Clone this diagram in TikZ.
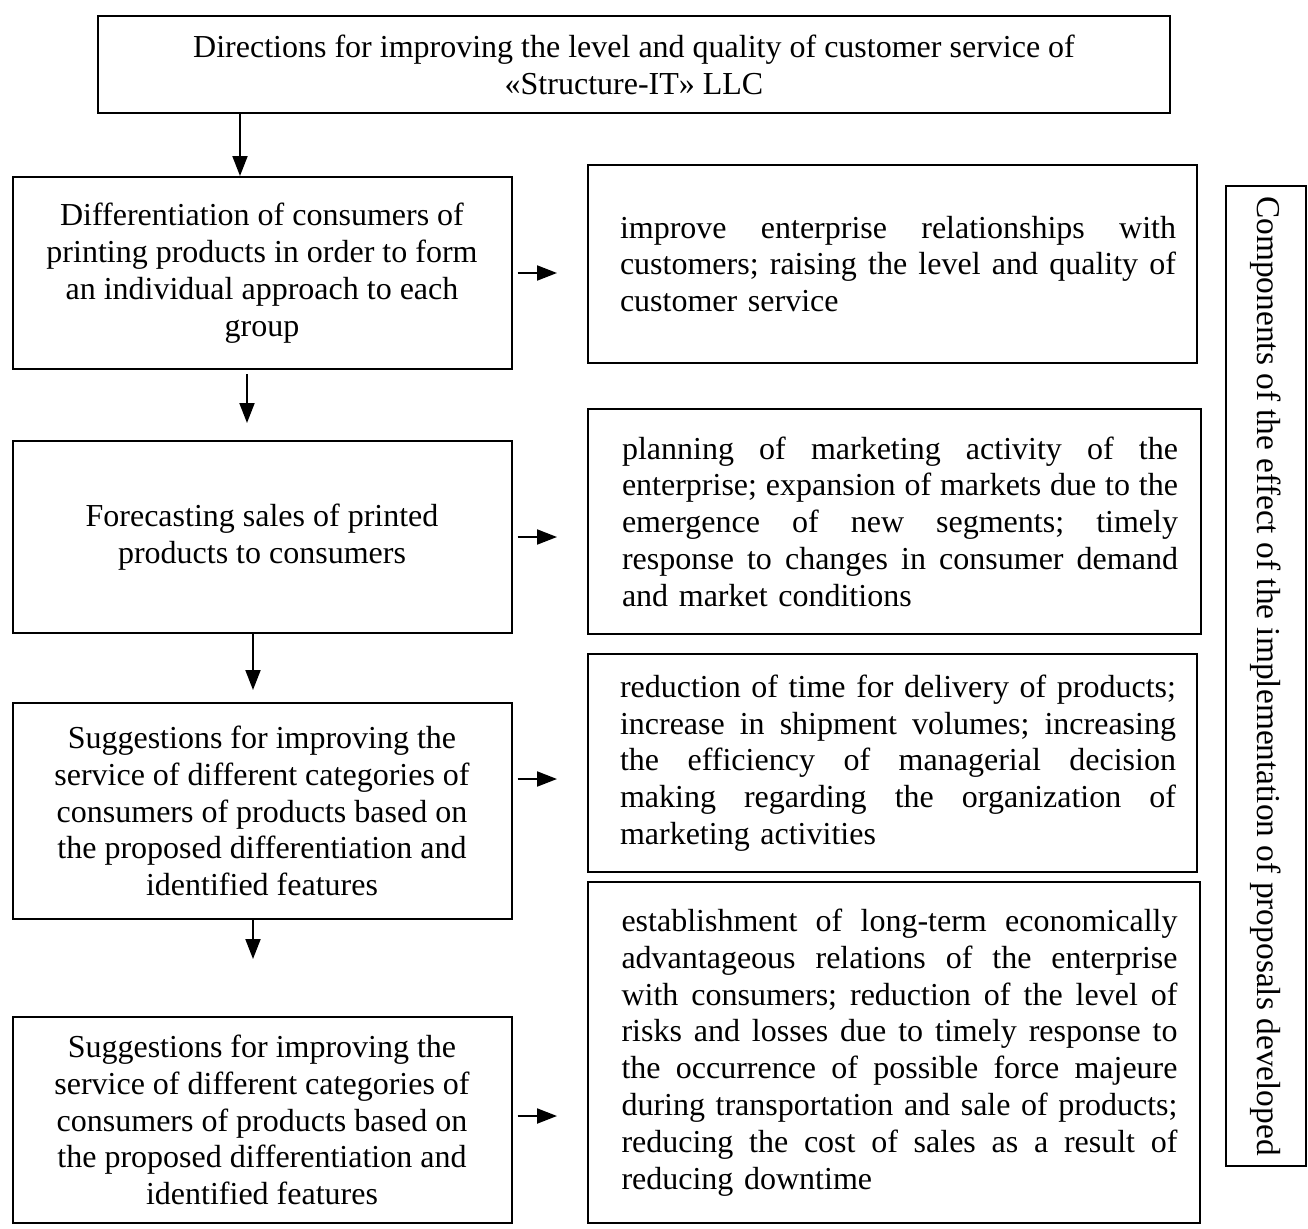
\documentclass[tikz,border=0pt]{standalone}
\usepackage{fontspec}
\setmainfont{Liberation Serif}
\usetikzlibrary{arrows.meta}
% justified lines of the effect boxes
\newlength\jw
\setlength\jw{556pt}
\newcommand\jl[1]{\hspace*{11pt}\hbox to\jw{\frenchspacing\spaceskip=0.25em plus 1fil minus 0.12em\relax #1}}
\newcommand\jlast[1]{\hspace*{11pt}#1}
\begin{document}
\begin{tikzpicture}[x=1pt,y=-1pt,
  box/.style={draw,line width=2pt,inner sep=0pt,font=\fontsize{32}{36.8}\selectfont},
  cbox/.style={box,align=center},
  jbox/.style={box,align=left,text width=567pt},
  arr/.style={line width=2pt,-{Triangle[length=20pt,width=15pt]}}]
\useasboundingbox (0,0) rectangle (1308,1228);
\fill[white] (0,0) rectangle (1308,1228);

% main heading
\node[cbox,minimum width=1072pt,minimum height=97pt] (top) at (634,64.5)
  {Directions for improving the level and quality of customer service of\\ «Structure-IT» LLC};

% directions (left column)
\node[cbox,minimum width=499pt,minimum height=192pt] (d1) at (262,273)
  {Differentiation of consumers of\\ printing products in order to form\\ an individual approach to each\\ group};
\node[cbox,minimum width=499pt,minimum height=192pt] (d2) at (262,537)
  {Forecasting sales of printed\\ products to consumers};
\node[cbox,minimum width=499pt,minimum height=216pt] (d3) at (262,811)
  {Suggestions for improving the\\ service of different categories of\\ consumers of products based on\\ the proposed differentiation and\\ identified features};
\node[cbox,minimum width=499pt,minimum height=206pt] (d4) at (262,1120)
  {Suggestions for improving the\\ service of different categories of\\ consumers of products based on\\ the proposed differentiation and\\ identified features};

% effects (right column)
\node[jbox,minimum width=609pt,minimum height=198pt] (e1) at (892.5,264)
  {\jl{improve enterprise relationships with}\\
   \jl{customers; raising the level and quality of}\\
   \jlast{customer service}};
\node[jbox,minimum width=613pt,minimum height=225pt] (e2) at (894.5,521.5)
  {\jl{planning of marketing activity of the}\\
   \jl{enterprise; expansion of markets due to the}\\
   \jl{emergence of new segments; timely}\\
   \jl{response to changes in consumer demand}\\
   \jlast{and market conditions}};
\node[jbox,minimum width=609pt,minimum height=218pt] (e3) at (892.5,763)
  {\jl{reduction of time for delivery of products;}\\
   \jl{increase in shipment volumes; increasing}\\
   \jl{the efficiency of managerial decision}\\
   \jl{making regarding the organization of}\\
   \jlast{marketing activities}};
\node[jbox,minimum width=612pt,minimum height=341pt] (e4) at (894,1052.5)
  {\jl{establishment of long-term economically}\\
   \jl{advantageous relations of the enterprise}\\
   \jl{with consumers; reduction of the level of}\\
   \jl{risks and losses due to timely response to}\\
   \jl{the occurrence of possible force majeure}\\
   \jl{during transportation and sale of products;}\\
   \jl{reducing the cost of sales as a result of}\\
   \jlast{reducing downtime}};

% vertical caption of the effect column
\node[box,rotate=-90,minimum width=980pt,minimum height=80pt,font=\fontsize{33.4}{38}\selectfont] (cap) at (1266,676)
  {Components of the effect of the implementation of proposals developed};

% free ends of the connectors
\coordinate (x0) at (240,0);
\coordinate (v1) at (247,423);
\coordinate (v2) at (253,690);
\coordinate (v3) at (253,959);
\coordinate (h1) at (557,273);
\coordinate (h2) at (557,537);
\coordinate (h3) at (557,779);
\coordinate (h4) at (557,1116);

% vertical connectors
\draw[arr] (top.south -| x0) -- (d1.north -| x0);
\draw[arr,shorten <=4pt] (d1.south -| v1) -- (v1);
\draw[arr] (d2.south -| v2) -- (v2);
\draw[arr] (d3.south -| v3) -- (v3);

% horizontal connectors
\draw[arr,shorten <=5pt] (d1.east |- h1) -- (h1);
\draw[arr,shorten <=5pt] (d2.east |- h2) -- (h2);
\draw[arr,shorten <=5pt] (d3.east |- h3) -- (h3);
\draw[arr,shorten <=5pt] (d4.east |- h4) -- (h4);
\end{tikzpicture}
\end{document}
